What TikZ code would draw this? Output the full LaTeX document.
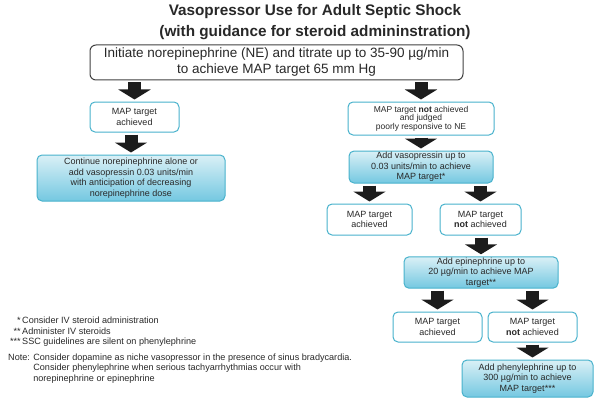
\documentclass[tikz,border=0pt]{standalone}
\usepackage{fontspec}
\setmainfont{Liberation Sans}
\usetikzlibrary{arrows.meta}

\definecolor{boxcyan}{RGB}{72,178,204}
\definecolor{filltop}{RGB}{218,240,246}
\definecolor{fillbot}{RGB}{116,200,225}
\definecolor{arrowgray}{RGB}{28,28,28}
\definecolor{textgray}{RGB}{40,40,40}

\tikzset{
  flowbox/.style={draw=boxcyan, line width=1pt, rounded corners=5pt, fill=white,
    align=center, inner sep=1pt, text=textgray,
    font=\fontsize{9}{10.5}\selectfont},
  flowfill/.style={flowbox, top color=filltop, bottom color=fillbot},
  startbox/.style={draw=black!75, line width=1pt, rounded corners=6pt, align=center,
    inner sep=1pt, text=textgray, font=\fontsize{13.5}{16}\selectfont},
  titletext/.style={align=center, text=textgray, font=\fontsize{15.3}{20.5}\bfseries},
  notetext/.style={align=left, inner sep=0pt, text=textgray,
    font=\fontsize{9.1}{10.4}\selectfont},
  flowarrow/.style={draw=arrowgray, line width=13pt,
    -{Triangle[width=32pt,length=10pt]}, shorten <=2pt, shorten >=2pt}
}

\begin{document}
\begin{tikzpicture}[x=1pt,y=-1pt]
\useasboundingbox (0,0) rectangle (600,404);

% heading and first step
\node[titletext] (title) at (315,22) {Vasopressor Use for Adult Septic Shock\\
  (with guidance for steroid admininstration)};
\node[startbox, minimum width=373pt, minimum height=35pt] (main) at (276.5,62.5)
  {Initiate norepinephrine (NE) and titrate up to 35-90 µg/min\\
   to achieve MAP target 65 mm Hg};

% left branch
\node[flowbox, minimum width=89pt, minimum height=30pt] (lok) at (134.5,117)
  {MAP target\\achieved};
\node[flowfill, minimum width=188pt, minimum height=46pt] (cont) at (131,178)
  {Continue norepinephrine alone or\\add vasopressin 0.03 units/min\\
   with anticipation of decreasing\\norepinephrine dose};

% right branch
\node[flowbox, minimum width=146pt, minimum height=33pt,
  font=\fontsize{8.5}{8.6}\selectfont] (rnot) at (421,118.5)
  {MAP target \textbf{not} achieved\\and judged\\poorly responsive to NE};
\node[flowfill, minimum width=144pt, minimum height=32pt] (vaso) at (421,167)
  {Add vasopressin up to\\0.03 units/min to achieve\\MAP target*};
\node[flowbox, minimum width=85pt, minimum height=31pt] (vok) at (369.5,219.5)
  {MAP target\\achieved};
\node[flowbox, minimum width=81pt, minimum height=31pt] (vnot) at (480.5,219.5)
  {MAP target\\\textbf{not} achieved};
\node[flowfill, minimum width=154pt, minimum height=31pt] (epi) at (481,272.5)
  {Add epinephrine up to\\20 µg/min to achieve MAP\\target**};
\node[flowbox, minimum width=89pt, minimum height=30pt] (eok) at (437.5,327)
  {MAP target\\achieved};
\node[flowbox, minimum width=89pt, minimum height=30pt] (enot) at (532.5,327)
  {MAP target\\\textbf{not} achieved};
\node[flowfill, minimum width=131pt, minimum height=37pt] (phen) at (527.5,378.5)
  {Add phenylephrine up to\\300 µg/min to achieve\\MAP target***};

% block arrows
\foreach \from/\to in {main/lok, main/rnot, lok/cont, rnot/vaso, vaso/vok,
    vaso/vnot, vnot/epi, epi/eok, epi/enot}
  \draw[flowarrow] (\to.north |- \from.south) -- (\to.north);
\draw[flowarrow] (enot.south) -- (enot.south |- phen.north);

% footnotes
\node[notetext, anchor=north west] (foot) at (22,317)
  {\llap{*\,}Consider IV steroid administration\\
   \llap{**\,}Administer IV steroids\\
   \llap{***\,}SSC guidelines are silent on phenylephrine};
\node[notetext, anchor=north west] (note) at (8,353.5)
  {Note: Consider dopamine as niche vasopressor in the presence of sinus bradycardia.\\
   \hphantom{Note: }Consider phenylephrine when serious tachyarrhythmias occur with\\
   \hphantom{Note: }norepinephrine or epinephrine};
\end{tikzpicture}
\end{document}
